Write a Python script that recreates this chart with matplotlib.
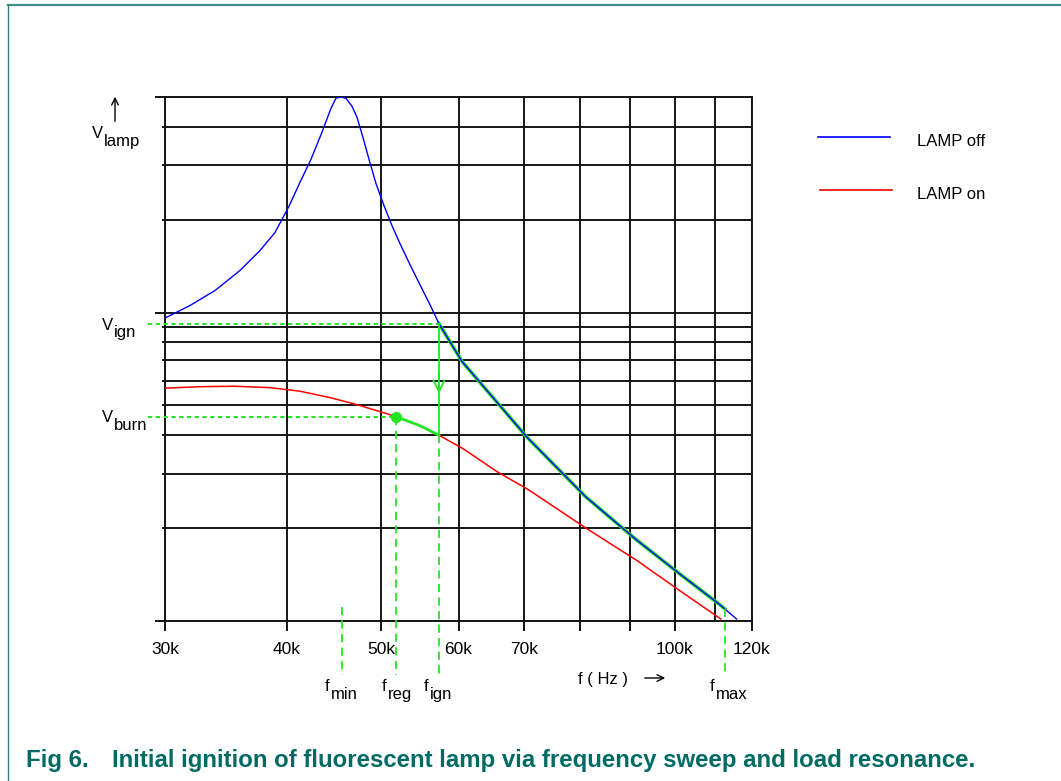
import numpy as np
import matplotlib
matplotlib.use('Agg')
import matplotlib.pyplot as plt
from matplotlib.lines import Line2D
from matplotlib.ticker import FixedLocator, NullFormatter

plt.rcParams['font.family'] = ['Liberation Sans', 'DejaVu Sans']

W, H = 1061, 781

# frequency in kHz, lamp voltage (arbitrary units, log axis)
f_off = [30.0, 31.82, 33.76, 35.81, 37.55, 38.90, 40.20, 41.26, 42.35, 43.46,
         44.40, 44.93, 45.46, 46.0, 46.66, 47.21, 47.88, 48.57, 49.37, 50.31,
         51.27, 52.25, 53.50, 54.77, 56.08, 57.29, 60.5, 70.6, 81.0, 91.2,
         101.5, 111.2, 115.7]
v_off = [9.6, 10.54, 11.79, 13.69, 15.90, 18.18, 22.09, 26.43, 31.39, 38.41,
         45.96, 49.6, 50.0, 49.5, 46.65, 42.97, 37.0, 31.39, 26.23, 22.26,
         19.16, 16.75, 14.31, 12.33, 10.62, 9.21, 6.94, 3.93, 2.53, 1.84,
         1.41, 1.13, 1.015]
f_on = [30.0, 32.59, 35.39, 38.44, 41.26, 44.30, 47.21, 50.31, 51.75, 54.77,
        57.57, 60.65, 65.71, 70.71, 81.08, 91.47, 101.7, 111.5]
v_on = [5.69, 5.75, 5.77, 5.71, 5.56, 5.30, 5.03, 4.73, 4.60, 4.30,
        3.97, 3.62, 3.05, 2.67, 2.0, 1.57, 1.24, 1.015]

xticks = [30, 40, 50, 60, 70, 80, 90, 100, 120]
xticklabels = ['30k', '40k', '50k', '60k', '70k', '', '', '100k', '120k']
xgrid_extra = [110]
y_major = [1, 10, 50]
y_minor = [2, 3, 4, 5, 6, 7, 8, 9, 20, 30, 40]

f_min, f_reg, f_ign, f_max = 45.6, 51.75, 57.29, 112.5
v_ign, v_burn = 9.21, 4.60
v_low = 0.67  # lower end of the dashed marker lines (below the axis)

blue = '#0000ff'
red = '#ff0000'
green = '#22e622'
teal = '#006a64'


def fx(x):
    return x / W


def fy(y):
    return 1 - y / H


def logint(x, xs, ys):
    return 10 ** np.interp(np.log10(x), np.log10(xs), np.log10(ys))


fig = plt.figure(figsize=(W / 100, H / 100), dpi=100)
ax = fig.add_axes([fx(165), fy(621), (752 - 165) / W, (621 - 97) / H])
ax.set_xscale('log')
ax.set_yscale('log')
ax.set_xlim(30, 120)
ax.set_ylim(1, 50)

ax.xaxis.set_major_locator(FixedLocator(xticks))
ax.xaxis.set_minor_locator(FixedLocator(xgrid_extra))
ax.set_xticklabels(xticklabels)
ax.xaxis.set_minor_formatter(NullFormatter())
ax.yaxis.set_major_locator(FixedLocator(y_major))
ax.yaxis.set_minor_locator(FixedLocator(y_minor))
ax.yaxis.set_major_formatter(NullFormatter())
ax.yaxis.set_minor_formatter(NullFormatter())
ax.tick_params(axis='x', which='major', length=7, width=1.3, pad=8, labelsize=12.5)
ax.tick_params(axis='x', which='minor', length=0)
ax.tick_params(axis='y', which='major', length=7.5, width=1.3)
ax.tick_params(axis='y', which='minor', length=2.5, width=1.3)
ax.grid(which='both', color='#151515', lw=1.4)
ax.set_axisbelow(True)
for s in ax.spines.values():
    s.set_linewidth(1.4)
    s.set_color('#151515')

# curves
ax.plot(f_on, v_on, color=red, lw=1.1, zorder=3)

fo = np.array(f_off)
vo = np.array(v_off)
m = (fo > f_ign) & (fo < f_max)
gx = np.concatenate([[f_ign], fo[m], [f_max]])
gy = np.concatenate([[v_ign], vo[m], [logint(f_max, f_off, v_off)]])
ax.plot(gx, gy, color=green, lw=2.6, zorder=3)
ax.plot(f_off, v_off, color=blue, lw=1.0, zorder=4)

fn = np.array(f_on)
vn = np.array(v_on)
m2 = (fn > f_reg) & (fn < f_ign)
v_ign_on = logint(f_ign, f_on, v_on)
rx = np.concatenate([[f_reg], fn[m2], [f_ign]])
ry = np.concatenate([[v_burn], vn[m2], [v_ign_on]])
ax.plot(rx, ry, color=green, lw=2.0, zorder=4)
ax.plot([f_reg], [v_burn], 'o', color=green, ms=7, zorder=5)

# ignition jump
ax.plot([f_ign, f_ign], [v_ign, v_ign_on], color=green, lw=1.3, zorder=4)
ax.annotate('', xy=(f_ign, 5.35), xytext=(f_ign, 6.5),
            arrowprops=dict(arrowstyle='->', color=green, lw=1.3,
                            mutation_scale=20), zorder=5)

# dotted levels and dashed frequency markers
dot = (0, (2.2, 1.8))
dash = (0, (4.5, 3.0))
ax.plot([28.8, f_ign], [v_ign, v_ign], color=green, lw=1.4, ls=dot,
        clip_on=False, zorder=4)
ax.plot([28.8, f_reg], [v_burn, v_burn], color=green, lw=1.4, ls=dot,
        clip_on=False, zorder=4)
ax.plot([f_min, f_min], [1.11, v_low], color=green, lw=1.3, ls=dash,
        clip_on=False, zorder=4)
ax.plot([f_reg, f_reg], [v_burn, v_low], color=green, lw=1.3, ls=dash,
        clip_on=False, zorder=4)
ax.plot([f_ign, f_ign], [v_ign_on, v_low], color=green, lw=1.3, ls=dash,
        clip_on=False, zorder=4)
ax.plot([f_max, f_max], [logint(f_max, f_off, v_off), v_low], color=green,
        lw=1.3, ls=dash, clip_on=False, zorder=4)


def sublabel(x, y, main, sub, drop=5.5, size=12):
    t = fig.text(fx(x), fy(y), main, fontsize=size, va='baseline', ha='left')
    ax.annotate(sub, xy=(1, 0), xycoords=t, xytext=(0.6, -drop),
                textcoords='offset points', fontsize=size, va='bottom',
                ha='left', annotation_clip=False)


sublabel(92, 138, 'V', 'lamp')
sublabel(102, 330, 'V', 'ign', drop=5)
sublabel(102, 422, 'V', 'burn')
sublabel(325, 691, 'f', 'min')
sublabel(382, 691, 'f', 'reg')
sublabel(424, 691, 'f', 'ign')
sublabel(710, 691, 'f', 'max')

fig.text(fx(578), fy(684), 'f ( Hz )', fontsize=12, va='baseline', ha='left')
ax.annotate('', xy=(fx(668), fy(678)), xycoords='figure fraction',
            xytext=(fx(642), fy(678)), textcoords='figure fraction',
            arrowprops=dict(arrowstyle='->', color='black', lw=1.0,
                            mutation_scale=12))

# up arrow of the y axis
ax.annotate('', xy=(fx(115), fy(94)), xycoords='figure fraction',
            xytext=(fx(115), fy(124)), textcoords='figure fraction',
            arrowprops=dict(arrowstyle='->', color='black', lw=1.0,
                            mutation_scale=12))

# legend
fig.add_artist(Line2D([fx(818), fx(890)], [fy(137), fy(137)], color=blue, lw=1.2))
fig.add_artist(Line2D([fx(820), fx(892)], [fy(190), fy(190)], color=red, lw=1.2))
fig.text(fx(917), fy(146), 'LAMP off', fontsize=12, va='baseline', ha='left')
fig.text(fx(917), fy(199), 'LAMP on', fontsize=12, va='baseline', ha='left')

# caption and frame
fig.text(fx(26), fy(767), 'Fig 6.', fontsize=17.3, fontweight='bold', color=teal,
         va='baseline', ha='left')
fig.text(fx(112), fy(767),
         'Initial ignition of fluorescent lamp via frequency sweep and load resonance.',
         fontsize=17.3, fontweight='bold', color=teal, va='baseline', ha='left')
fig.add_artist(Line2D([fx(8), 1], [fy(5), fy(5)], color='#3f8c8a', lw=1.6))
fig.add_artist(Line2D([fx(8), fx(8)], [fy(5), 0], color='#2f8080', lw=1.0))

fig.savefig('out.png', dpi=100)
